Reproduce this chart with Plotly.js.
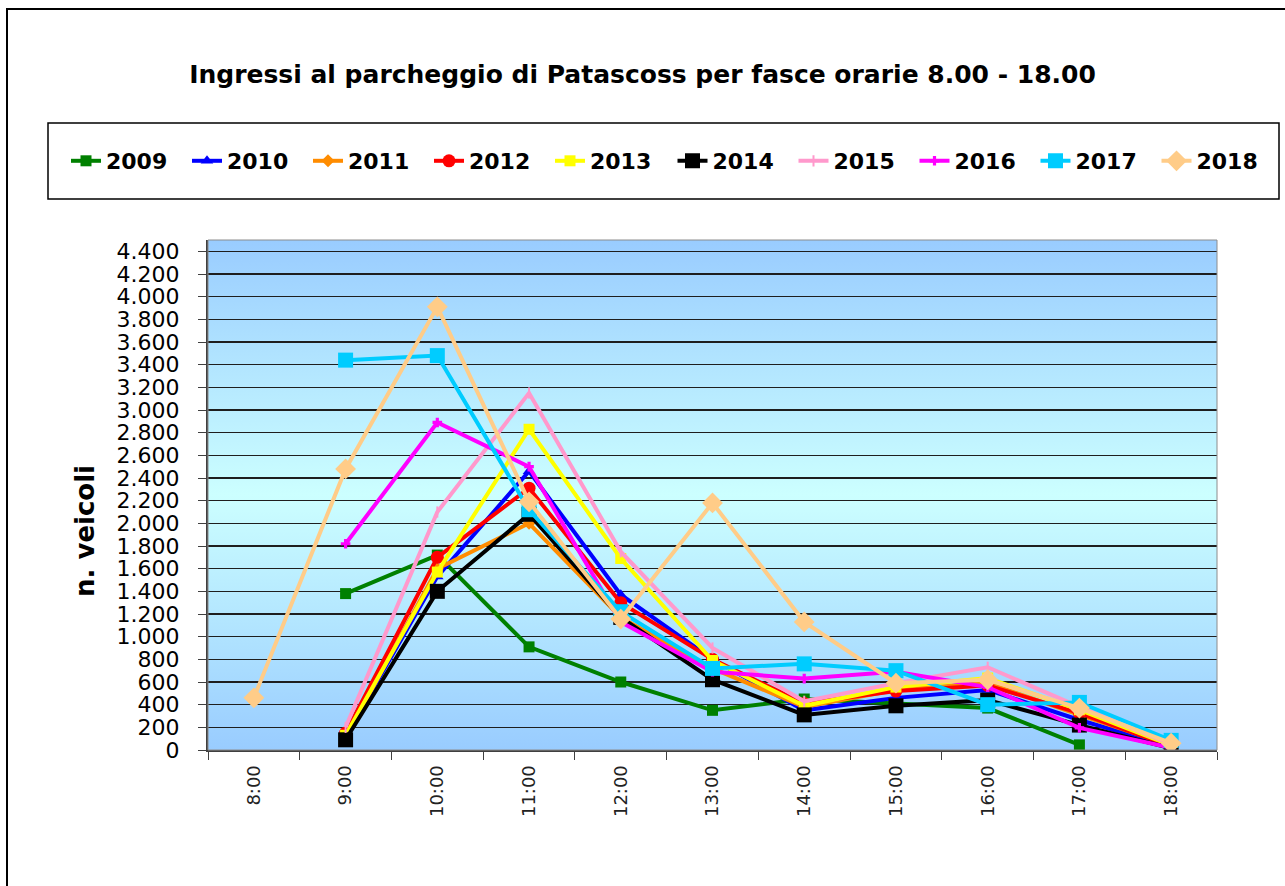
<!DOCTYPE html>
<html>
<head>
<meta charset="utf-8">
<script src="https://cdn.plot.ly/plotly-3.0.1.min.js"></script>
<style>html,body{margin:0;padding:0;background:#fff;}#chart{width:1285px;height:886px;}</style>
</head>
<body>
<div id="chart"></div>
<script>
// Data
const hours = ["8:00","9:00","10:00","11:00","12:00","13:00","14:00","15:00","16:00","17:00","18:00"];
const years = ["2009","2010","2011","2012","2013","2014","2015","2016","2017","2018"];
const y2009 = [null, 1380, 1720, 910, 600, 350, 450, 410, 370, 45, null];
const y2010 = [null, 120, 1530, 2460, 1370, 800, 350, 460, 530, 265, 30];
const y2011 = [null, 110, 1600, 2000, 1170, 720, 380, 530, 590, 310, 40];
const y2012 = [null, 150, 1700, 2310, 1300, 800, 410, 520, 570, 325, 30];
const y2013 = [null, 130, 1570, 2830, 1690, 790, 390, 555, 635, 355, 40];
const y2014 = [null, 90, 1400, 2080, 1170, 620, 310, 390, 440, 220, 15];
const y2015 = [null, 200, 2100, 3150, 1750, 900, 430, 590, 730, 380, 50];
const y2016 = [null, 1820, 2890, 2500, 1130, 690, 630, 690, 555, 195, 20];
const y2017 = [null, 3440, 3480, 2120, 1220, 720, 760, 700, 400, 420, 85];
const y2018 = [460, 2480, 3910, 2190, 1155, 2180, 1130, 590, 620, 370, 60];
const series = [y2009, y2010, y2011, y2012, y2013, y2014, y2015, y2016, y2017, y2018];

const colors = ["#008000","#0000FF","#FF8C00","#FF0000","#FFFF00","#000000","#FF99CC","#FF00FF","#00CCFF","#FFCC88"];
const symbols = ["square","triangle-up","diamond","circle","square","square","line-ns-open","cross","square","diamond"];
const sizes = [11, 11, 10, 13, 11, 15, 8, 8, 15, 16];

const traces = series.map((vals, i) => ({
  type: "scatter",
  mode: "lines+markers",
  name: years[i],
  legend: i < 5 ? "legend" : "legend2",
  x: hours,
  y: vals,
  connectgaps: false,
  line: {color: colors[i], width: 4},
  marker: {symbol: symbols[i], size: sizes[i], color: colors[i], line: {color: colors[i], width: symbols[i] === "line-ns-open" ? 2 : 0}}
}));

const W = 1009, H = 510, L = 208, T = 240;
const px = v => (v - L) / W;
const py = v => (T + H - v) / H;

const grad = "data:image/svg+xml;charset=utf-8," + encodeURIComponent(
  "<svg xmlns='http://www.w3.org/2000/svg' width='100' height='100' viewBox='0 0 100 100' preserveAspectRatio='none'>" +
  "<defs><linearGradient id='g' x1='0' y1='0' x2='0' y2='1'>" +
  "<stop offset='0' stop-color='#99CCFF'/><stop offset='0.5' stop-color='#CCFFFF'/><stop offset='1' stop-color='#99CCFF'/>" +
  "</linearGradient></defs><rect x='0' y='0' width='100' height='100' fill='url(#g)'/></svg>");

const legendBase = {
  orientation: "h",
  xref: "container", yref: "container",
  xanchor: "left",
  y: 1 - 161 / 886, yanchor: "middle",
  font: {family: "DejaVu Sans", size: 22, color: "#000", weight: "bold"},
  bgcolor: "rgba(0,0,0,0)",
  borderwidth: 0,
  entrywidth: 76, entrywidthmode: "pixels",
  traceorder: "normal"
};

const layout = {
  width: 1285, height: 886,
  margin: {l: L, r: 1285 - L - W, t: T, b: 886 - T - H, pad: 0},
  paper_bgcolor: "#FFFFFF",
  plot_bgcolor: "rgba(0,0,0,0)",
  separators: ",.",
  showlegend: true,
  title: {
    text: "Ingressi al parcheggio di Patascoss per fasce orarie 8.00 - 18.00",
    font: {family: "DejaVu Sans", size: 25, color: "#000", weight: "bold"},
    x: 0.5, xref: "container", xanchor: "center",
    y: 1 - 74 / 886, yref: "container", yanchor: "middle"
  },
  legend: Object.assign({}, legendBase, {x: 66 / 1285}),
  legend2: Object.assign({}, legendBase, {x: (66 + 5 * 121.3) / 1285}),
  xaxis: {
    type: "category",
    categoryorder: "array", categoryarray: hours,
    range: [-0.5, 10.5],
    tickson: "boundaries",
    ticks: "outside", ticklen: 8, tickwidth: 1, tickcolor: "#404040",
    tickangle: -90,
    ticklabelstandoff: 6,
    tickfont: {family: "DejaVu Sans", size: 18, color: "#222"},
    showline: true, linecolor: "#404040", linewidth: 2,
    showgrid: false, zeroline: false, fixedrange: true
  },
  yaxis: {
    range: [0, 4500],
    tick0: 0, dtick: 200,
    tickformat: ",d",
    ticks: "outside", ticklen: 8, tickwidth: 1, tickcolor: "#404040",
    ticklabelstandoff: 14,
    tickfont: {family: "DejaVu Sans", size: 22, color: "#000"},
    showline: true, linecolor: "#404040", linewidth: 2,
    showgrid: true, gridcolor: "#1E1E1E", gridwidth: 1.5,
    zeroline: false, fixedrange: true
  },
  images: [{
    source: grad, xref: "paper", yref: "paper",
    x: 0, y: 1, sizex: 1, sizey: 1, xanchor: "left", yanchor: "top",
    sizing: "stretch", layer: "below", opacity: 1
  }],
  shapes: [
    {type: "rect", xref: "paper", yref: "paper", x0: 0, x1: 1, y0: 0, y1: 1,
     line: {color: "#8C8C8C", width: 1}, fillcolor: "rgba(0,0,0,0)", layer: "above"},
    {type: "rect", xref: "paper", yref: "paper", x0: px(48), x1: px(1279), y0: py(199), y1: py(123),
     line: {color: "#000", width: 1.5}, fillcolor: "rgba(0,0,0,0)"},
    {type: "rect", xref: "paper", yref: "paper", x0: px(7), x1: px(1300), y0: py(900), y1: py(9),
     line: {color: "#000", width: 2}, fillcolor: "rgba(0,0,0,0)"}
  ],
  annotations: [{
    text: "n. veicoli", textangle: -90, showarrow: false,
    xref: "paper", yref: "paper", x: px(85), y: py(531),
    xanchor: "center", yanchor: "middle",
    font: {family: "DejaVu Sans", size: 26, color: "#000", weight: "bold"}
  }]
};

Plotly.newPlot("chart", traces, layout, {displayModeBar: false, staticPlot: true});
</script>
</body>
</html>
